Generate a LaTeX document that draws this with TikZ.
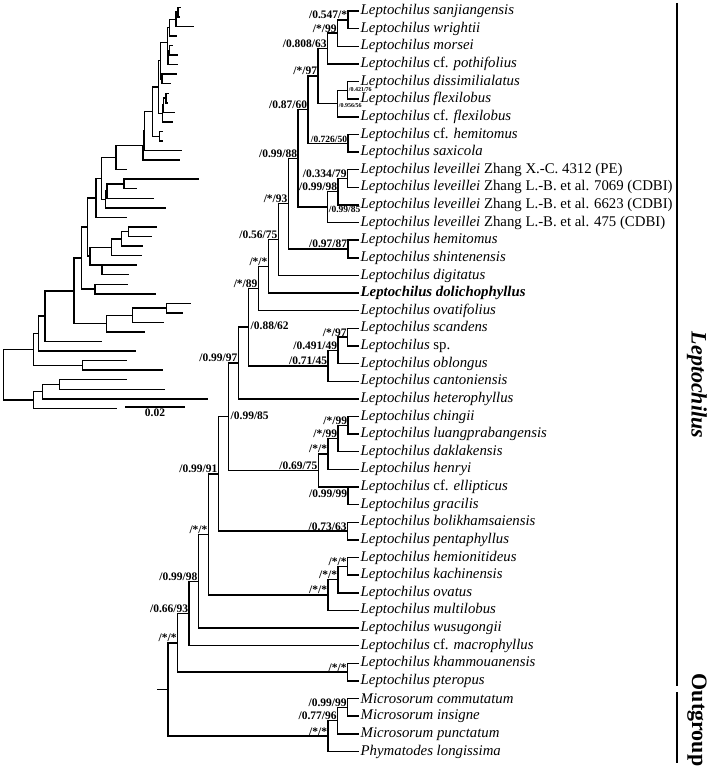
\documentclass[tikz,border=0pt]{standalone}
\usepackage{fontspec}
\setmainfont{Liberation Serif}
\usetikzlibrary{positioning}
% row positions of the tips (right cladogram, left phylogram)
\newcommand{\ry}[1]{11+(#1-1)*17.63}
\newcommand{\ly}[1]{7.3+(#1-1)*9.55}
\tikzset{
  br/.style={line width=1.45pt},
  tip/.style={anchor=west, inner sep=1.5pt, font=\fontsize{14.8}{16}\selectfont\itshape},
  sup/.style={anchor=south east, inner sep=0.7pt, font=\fontsize{11.5}{12}\selectfont\bfseries},
  supsm/.style={sup, font=\fontsize{9.5}{10}\selectfont\bfseries},
  supxs/.style={sup, font=\fontsize{6}{7}\selectfont\bfseries},
  bar/.style={line width=1.8pt},
  grp/.style={rotate=-90, inner sep=0pt, font=\fontsize{22}{24}\selectfont\bfseries}
}

\begin{document}
\begin{tikzpicture}[x=1pt, y=-1pt]
    \useasboundingbox (0,0) rectangle (709,773);

    % internal nodes: name / x right / x left / row
    \foreach \n/\xr/\xl/\r in {
        a1/348/178/1.5, a2/337.5/176/2.25, a3/327.5/169.3/3.125,
        a4/347.5/169.5/5.5, a5/337.5/168/6.25, a6/318/167.5/4.6875,
        a7/348/162/8.5, a8/308/160.7/6.59375,
        e1/347.5/166/10.5, e2/338/163.5/11.25, e3/327.5/162.5/12.125,
        b1/298/158.5/9.359375, h1/348/159.3/14.5, b2/288.3/152.7/11.9297,
        b3/278.3/144.5/13.9648, b4/268.3/143.3/15.4824, b5/258.3/116/16.7412,
        s1/347.5/124/19.5, s2/338/107/20.25, s3/328/105.5/21.125,
        c1/248.3/101.7/18.9331, c2/238.3/96/20.9666,
        k1/348/128.3/24.5, k2/338/121.7/25.25, k3/328/111.7/26.125,
        k4/348/102/28, k5/318.3/90/27.0625, c3/228.3/87.3/24.0145,
        p1/347.5/95/30.5, c4/218.3/81.7/27.2573,
        m1/347.5/166.7/32.5, m2/338/132.7/33.25, m3/328/106.7/34.125,
        c5/208.3/74/30.6911, c6/198.3/45/33.3456, c7/189/38.7/35.1728,
        x1/347.5/82.7/38.5, c8/177.5/33.3/36.8364,
        o1/347.5/59.3/40.5, o2/337.5/42.7/41.25, o3/328/33.3/42.125,
        rt/168/3.3/39.4807}
        {\coordinate (\n) at (\xr,{\ry{\r}});
         \coordinate (l\n) at (\xl,{\ly{\r}});}

    % tips: right ends at 359, left ends vary
    \foreach \i/\xl in {1/181,2/179.5,3/194,4/177,5/173,6/178,7/178,8/176.7,
        9/170.7,10/168.5,11/168,12/175,13/172.5,14/163.3,15/163.3,16/181.7,
        17/180,18/127.3,19/199.3,20/136.7,21/154,22/165.7,23/127.3,24/157.3,
        25/151.7,26/142.7,27/141.7,28/136.7,29/129.3,30/127.7,31/156,32/190.7,
        33/182.7,34/164.3,35/145,36/101.7,37/136,38/126.7,39/163.3,40/126.7,
        41/165,42/208.3,43/117.3}
        {\coordinate (t\i) at (359,{\ry{\i}});
         \coordinate (lt\i) at (\xl,{\ly{\i}});}

    % branches, same topology in both trees
    \foreach \p/\c in {a1/t1,a1/t2,a2/a1,a2/t3,a3/a2,a3/t4,a4/t5,a4/t6,a5/a4,
        a5/t7,a6/a3,a6/a5,a7/t8,a7/t9,a8/a6,a8/a7,e1/t10,e1/t11,e2/e1,e2/t12,
        e3/e2,e3/t13,b1/a8,b1/e3,h1/t14,h1/t15,b2/b1,b2/h1,b3/b2,b3/t16,b4/b3,
        b4/t17,b5/b4,b5/t18,s1/t19,s1/t20,s2/s1,s2/t21,s3/s2,s3/t22,c1/b5,c1/s3,
        c2/c1,c2/t23,k1/t24,k1/t25,k2/k1,k2/t26,k3/k2,k3/t27,k4/t28,k4/t29,
        k5/k3,k5/k4,c3/c2,c3/k5,p1/t30,p1/t31,c4/c3,c4/p1,m1/t32,m1/t33,m2/m1,
        m2/t34,m3/m2,m3/t35,c5/c4,c5/m3,c6/c5,c6/t36,c7/c6,c7/t37,x1/t38,x1/t39,
        c8/c7,c8/x1,o1/t40,o1/t41,o2/o1,o2/t42,o3/o2,o3/t43,rt/c8,rt/o3}
        {\draw[br] (\p) |- (\c);
         \draw[br] (l\p) |- (l\c);}
    \draw[line width=1.9pt] (lb4) |- (lt17);
    \coordinate (stub) at (157,{\ry{39.4807}});
    \draw[br] (stub) -- (rt);

    % scale bar
    \coordinate (sbl) at (125,407);
    \coordinate (sbr) at (185,407);
    \coordinate (sbm) at (155,407);
    \draw[line width=1.5pt] (sbl) -- (sbr);
    \node[below=1.5pt of sbm, inner sep=0.5pt, font=\fontsize{11.5}{12}\selectfont\bfseries] (sblab) {0.02};

    % taxa
    \node[tip] (tx1) at (t1) {Leptochilus sanjiangensis};
    \node[tip] (tx2) at (t2) {Leptochilus wrightii};
    \node[tip] (tx3) at (t3) {Leptochilus morsei};
    \node[tip] (tx4) at (t4) {Leptochilus \textup{cf.} pothifolius};
    \node[tip] (tx5) at (t5) {Leptochilus dissimilialatus};
    \node[tip] (tx6) at (t6) {Leptochilus flexilobus};
    \node[tip] (tx7) at (t7) {Leptochilus \textup{cf.} flexilobus};
    \node[tip] (tx8) at (t8) {Leptochilus \textup{cf.} hemitomus};
    \node[tip] (tx9) at (t9) {Leptochilus saxicola};
    \node[tip] (tx10) at (t10) {Leptochilus leveillei \textup{Zhang X.-C. 4312 (PE)}};
    \node[tip] (tx11) at (t11) {Leptochilus leveillei \textup{Zhang L.-B. et al. 7069 (CDBI)}};
    \node[tip] (tx12) at (t12) {Leptochilus leveillei \textup{Zhang L.-B. et al. 6623 (CDBI)}};
    \node[tip] (tx13) at (t13) {Leptochilus leveillei \textup{Zhang L.-B. et al. 475 (CDBI)}};
    \node[tip] (tx14) at (t14) {Leptochilus hemitomus};
    \node[tip] (tx15) at (t15) {Leptochilus shintenensis};
    \node[tip] (tx16) at (t16) {Leptochilus digitatus};
    \node[tip] (tx17) at (t17) {\bfseries Leptochilus dolichophyllus};
    \node[tip] (tx18) at (t18) {Leptochilus ovatifolius};
    \node[tip] (tx19) at (t19) {Leptochilus scandens};
    \node[tip] (tx20) at (t20) {Leptochilus \textup{sp.}};
    \node[tip] (tx21) at (t21) {Leptochilus oblongus};
    \node[tip] (tx22) at (t22) {Leptochilus cantoniensis};
    \node[tip] (tx23) at (t23) {Leptochilus heterophyllus};
    \node[tip] (tx24) at (t24) {Leptochilus chingii};
    \node[tip] (tx25) at (t25) {Leptochilus luangprabangensis};
    \node[tip] (tx26) at (t26) {Leptochilus daklakensis};
    \node[tip] (tx27) at (t27) {Leptochilus henryi};
    \node[tip] (tx28) at (t28) {Leptochilus \textup{cf.} ellipticus};
    \node[tip] (tx29) at (t29) {Leptochilus gracilis};
    \node[tip] (tx30) at (t30) {Leptochilus bolikhamsaiensis};
    \node[tip] (tx31) at (t31) {Leptochilus pentaphyllus};
    \node[tip] (tx32) at (t32) {Leptochilus hemionitideus};
    \node[tip] (tx33) at (t33) {Leptochilus kachinensis};
    \node[tip] (tx34) at (t34) {Leptochilus ovatus};
    \node[tip] (tx35) at (t35) {Leptochilus multilobus};
    \node[tip] (tx36) at (t36) {Leptochilus wusugongii};
    \node[tip] (tx37) at (t37) {Leptochilus \textup{cf.} macrophyllus};
    \node[tip] (tx38) at (t38) {Leptochilus khammouanensis};
    \node[tip] (tx39) at (t39) {Leptochilus pteropus};
    \node[tip] (tx40) at (t40) {Microsorum commutatum};
    \node[tip] (tx41) at (t41) {Microsorum insigne};
    \node[tip] (tx42) at (t42) {Microsorum punctatum};
    \node[tip] (tx43) at (t43) {Phymatodes longissima};

    % support values
    \node[sup] (sa1) at (a1) {/0.547/*};
    \node[sup] (sa2) at (a2) {/*/99};
    \node[sup] (sa3) at (a3) {/0.808/63};
    \node[supxs, anchor=west] (sa4) at ([xshift=0.5pt,yshift=1pt]a4) {/0.421/76};
    \node[supxs, anchor=west] (sa5) at ([xshift=0.5pt,yshift=-2pt]a5) {/0.956/56};
    \node[sup] (sa6) at (a6) {/*/97};
    \node[supsm] (sa7) at (a7) {/0.726/50};
    \node[sup] (sa8) at (a8) {/0.87/60};
    \node[sup] (se1) at (e1) {/0.334/79};
    \node[sup] (se2) at (e2) {/0.99/98};
    \node[supsm, anchor=west] (se3) at ([xshift=0.5pt,yshift=-2pt]e3) {/0.99/85};
    \node[sup] (sb1) at (b1) {/0.99/88};
    \node[sup] (sh1) at (h1) {/0.97/87};
    \node[sup] (sb2) at (b2) {/*/93};
    \node[sup] (sb3) at (b3) {/0.56/75};
    \node[sup] (sb4) at (b4) {/*/*};
    \node[sup] (sb5) at (b5) {/*/89};
    \node[sup] (ss1) at (s1) {/*/97};
    \node[sup] (ss2) at (s2) {/0.491/49};
    \node[sup] (ss3) at (s3) {/0.71/45};
    \node[sup, anchor=west] (sc1) at ([xshift=1.5pt,yshift=1pt]c1) {/0.88/62};
    \node[sup] (sc2) at (c2) {/0.99/97};
    \node[sup] (sk1) at (k1) {/*/99};
    \node[sup] (sk2) at (k2) {/*/99};
    \node[sup] (sk3) at (k3) {/*/*};
    \node[sup, anchor=north east] (sk4) at ([yshift=-2pt]k4) {/0.99/99};
    \node[sup] (sk5) at (k5) {/0.69/75};
    \node[sup, anchor=west] (sc3) at ([xshift=1.5pt,yshift=1pt]c3) {/0.99/85};
    \node[sup] (sp1) at (p1) {/0.73/63};
    \node[sup] (sc4) at (c4) {/0.99/91};
    \node[sup] (sm1) at (m1) {/*/*};
    \node[sup] (sm2) at (m2) {/*/*};
    \node[sup] (sm3) at (m3) {/*/*};
    \node[sup] (sc5) at (c5) {/*/*};
    \node[sup] (sc6) at (c6) {/0.99/98};
    \node[sup] (sc7) at (c7) {/0.66/93};
    \node[sup] (sx1) at (x1) {/*/*};
    \node[sup] (sc8) at (c8) {/*/*};
    \node[sup] (so1) at (o1) {/0.99/99};
    \node[sup] (so2) at (o2) {/0.77/96};
    \node[sup] (so3) at (o3) {/*/*};

    % group bars
    \coordinate (lepT) at (677,3);
    \coordinate (lepB) at (677,686);
    \coordinate (outT) at (677,692);
    \coordinate (outB) at (677,763);
    \draw[bar] (lepT) -- (lepB);
    \draw[bar] (outT) -- (outB);
    \node[grp] (lepname) at (697,385) {\itshape Leptochilus};
    \node[grp] (outname) at (697,720) {Outgroup};
\end{tikzpicture}
\end{document}
